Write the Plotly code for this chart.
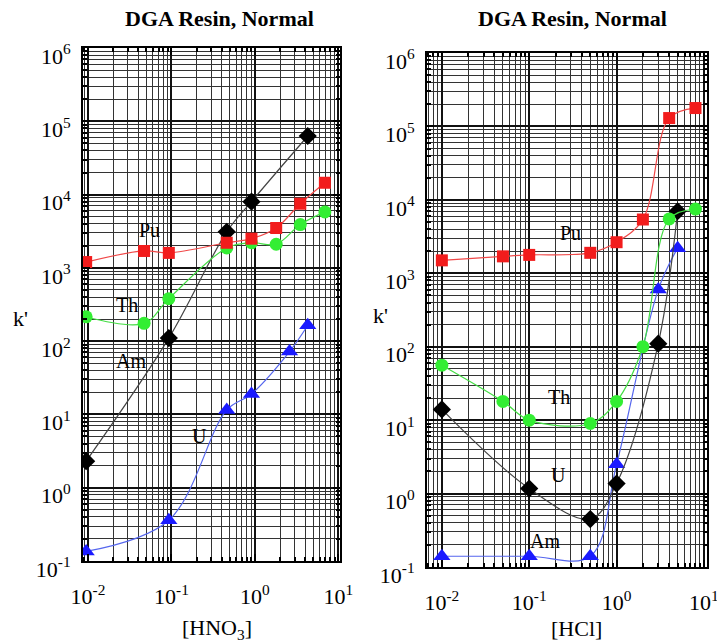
import plotly.graph_objects as go

# ---------------- data: HNO3 panel ----------------
hno3_pu_x = [0.0095, 0.047, 0.093, 0.46, 0.91, 1.8, 3.5, 6.9]
hno3_pu_y = [1200, 1700, 1600, 2200, 2500, 3500, 7500, 14500]
hno3_th_x = [0.0095, 0.047, 0.093, 0.46, 0.91, 1.8, 3.5, 6.9]
hno3_th_y = [215, 175, 380, 1870, 2200, 2100, 3900, 5800]
hno3_am_x = [0.0095, 0.093, 0.46, 0.91, 4.3]
hno3_am_y = [2.3, 110, 3100, 8000, 63000]
hno3_u_x = [0.0095, 0.093, 0.46, 0.91, 2.6, 4.3]
hno3_u_y = [0.135, 0.36, 11.5, 19, 72, 165]

# ---------------- data: HCl panel ----------------
hcl_pu_x = [0.01, 0.05, 0.1, 0.5, 1.0, 2.0, 4.0, 8.0]
hcl_pu_y = [1500, 1700, 1780, 1900, 2650, 5400, 130000, 178000]
hcl_th_x = [0.01, 0.05, 0.1, 0.5, 1.0, 2.0, 4.0, 8.0]
hcl_th_y = [56, 18, 10, 9, 18, 100, 5500, 7500]
hcl_black_x = [0.01, 0.1, 0.5, 1.0, 3.0, 5.0]
hcl_black_y = [14, 1.17, 0.45, 1.37, 110, 7000]
hcl_blue_x = [0.01, 0.1, 0.5, 1.0, 3.0, 5.0]
hcl_blue_y = [0.14, 0.14, 0.14, 2.5, 600, 2200]

x_decades = [0.01, 0.1, 1, 10]
x_ticktext = ["10<sup>-2</sup>", "10<sup>-1</sup>", "10<sup>0</sup>", "10<sup>1</sup>"]
y_decades = [0.1, 1, 10, 100, 1000, 10000, 100000, 1000000]
y_ticktext = ["10<sup>-1</sup>", "10<sup>0</sup>", "10<sup>1</sup>", "10<sup>2</sup>",
              "10<sup>3</sup>", "10<sup>4</sup>", "10<sup>5</sup>", "10<sup>6</sup>"]

FONT = "Liberation Serif"

def minor_vals(decades):
    out = []
    for d in decades:
        for m in range(2, 10):
            out.append(d * m)
    return out

series_style = {
    "Pu": dict(color="#f21c1c", line="#f04848", symbol="square", size=12),
    "Th": dict(color="#33ee33", line="#44dd44", symbol="circle", size=13),
    "Am": dict(color="#000000", line="#444444", symbol="diamond", size=14),
    "U": dict(color="#1a1aff", line="#5566ee", symbol="triangle-up", size=15),
}

fig = go.Figure()

def add(x, y, key, xa, ya):
    s = series_style[key]
    fig.add_trace(go.Scatter(
        x=x, y=y, mode="lines+markers", xaxis=xa, yaxis=ya,
        line=dict(color=s["line"], width=1.2, shape="spline", smoothing=1.0),
        marker=dict(color=s["color"], symbol=s["symbol"], size=s["size"], line=dict(width=0)),
        showlegend=False))

add(hno3_am_x, hno3_am_y, "Am", "x", "y")
add(hno3_u_x, hno3_u_y, "U", "x", "y")
add(hno3_th_x, hno3_th_y, "Th", "x", "y")
add(hno3_pu_x, hno3_pu_y, "Pu", "x", "y")

add(hcl_blue_x, hcl_blue_y, "U", "x2", "y2")
add(hcl_black_x, hcl_black_y, "Am", "x2", "y2")
add(hcl_th_x, hcl_th_y, "Th", "x2", "y2")
add(hcl_pu_x, hcl_pu_y, "Pu", "x2", "y2")

def xaxis(domain, rng, anchor):
    return dict(type="log", domain=domain, range=rng, anchor=anchor, automargin=False,
                tickmode="array", tickvals=x_decades, ticktext=x_ticktext,
                ticks="inside", ticklen=7, tickwidth=2, tickcolor="black",
                mirror="allticks", showline=True, linecolor="black", linewidth=2,
                showgrid=True, gridcolor="#111111", gridwidth=2,
                tickfont=dict(family=FONT, size=22, color="black"),
                ticklabelstandoff=15, ticklabeloverflow="allow",
                minor=dict(tickmode="array", tickvals=minor_vals([0.001, 0.01, 0.1, 1, 10]),
                           ticks="inside", ticklen=4, tickwidth=2, tickcolor="black",
                           showgrid=True, gridcolor="#333333", gridwidth=1),
                zeroline=False)

def yaxis(domain, anchor):
    return dict(type="log", domain=domain, range=[-1, 6], anchor=anchor, automargin=False,
                tickmode="array", tickvals=y_decades, ticktext=y_ticktext,
                ticks="inside", ticklen=7, tickwidth=2, tickcolor="black",
                mirror="allticks", showline=True, linecolor="black", linewidth=2,
                showgrid=True, gridcolor="#111111", gridwidth=2,
                tickfont=dict(family=FONT, size=22, color="black"),
                ticklabelshift=8, ticklabelstandoff=6, ticklabeloverflow="allow",
                minor=dict(tickmode="array", tickvals=minor_vals(y_decades[:-1]),
                           ticks="inside", ticklen=4, tickwidth=2, tickcolor="black",
                           showgrid=True, gridcolor="#333333", gridwidth=1),
                zeroline=False)

annots = []
def lab(text, x, y, xref, yref, size=20):
    annots.append(dict(text=text, x=x, y=y, xref=xref, yref=yref, showarrow=False,
                       font=dict(family=FONT, size=size, color="black"),
                       xanchor="center", yanchor="middle"))

# curve labels (log10 positions)
lab("Pu", -1.26, 3.52, "x", "y")
lab("Th", -1.53, 2.50, "x", "y")
lab("Am", -1.49, 1.73, "x", "y")
lab("U", -0.66, 0.70, "x", "y")
lab("Pu", -0.53, 3.55, "x2", "y2")
lab("Th", -0.66, 1.31, "x2", "y2")
lab("U", -0.66, 0.25, "x2", "y2")
lab("Am", -0.82, -0.64, "x2", "y2")

# axis labels / titles
lab("k'", 20 / 717, 1 - 318 / 644, "paper", "paper", 22)
lab("k'", 380 / 717, 1 - 316 / 644, "paper", "paper", 22)
lab("[HNO<sub>3</sub>]", 217 / 717, 1 - 629 / 644, "paper", "paper", 22)
lab("[HCl]", 576 / 717, 1 - 628 / 644, "paper", "paper", 22)
lab("<b>DGA Resin, Normal</b>", 219 / 717, 1 - 18 / 644, "paper", "paper", 22)
lab("<b>DGA Resin, Normal</b>", 572 / 717, 1 - 18 / 644, "paper", "paper", 22)

fig.update_layout(
    width=717, height=644,
    margin=dict(l=0, r=0, t=0, b=0, pad=0, autoexpand=False),
    paper_bgcolor="white", plot_bgcolor="white",
    xaxis=xaxis([83 / 717, 340 / 717], [-2.06, 1.02], "y"),
    yaxis=yaxis([1 - 561 / 644, 1 - 48 / 644], "x"),
    xaxis2=xaxis([427 / 717, 707 / 717], [-2.17, 1.035], "y2"),
    yaxis2=yaxis([1 - 567 / 644, 1 - 53 / 644], "x2"),
    annotations=annots,
)

fig.write_html("out.html")
